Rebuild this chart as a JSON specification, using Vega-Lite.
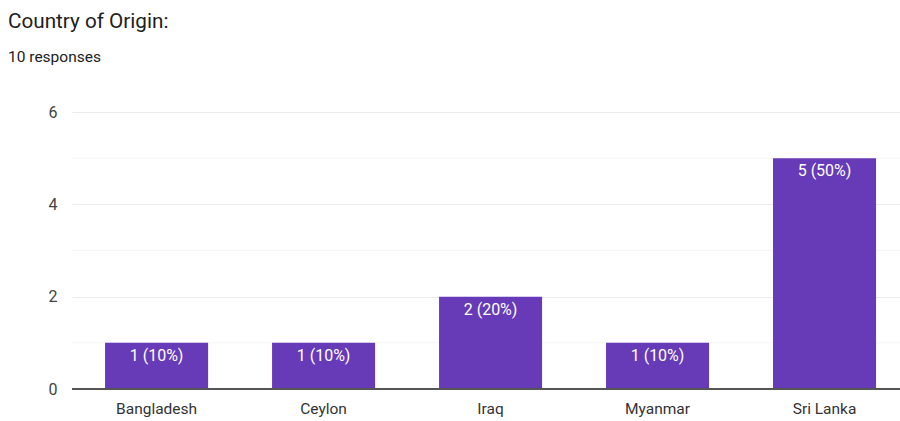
{
  "$schema": "https://vega.github.io/schema/vega-lite/v6.json",
  "width": 828,
  "height": 277,
  "padding": {"left": 8, "top": 10, "right": 0, "bottom": 0},
  "background": "white",
  "title": {
    "text": "Country of Origin:",
    "subtitle": "10 responses",
    "anchor": "start",
    "frame": "group",
    "dx": -64,
    "offset": 38,
    "font": "Roboto",
    "fontSize": 20.7,
    "fontWeight": "normal",
    "color": "#212121",
    "subtitleFont": "Roboto",
    "subtitleFontSize": 15.5,
    "subtitleColor": "#212121",
    "subtitlePadding": 17
  },
  "data": {
    "values": [
      {"country": "Bangladesh", "count": 1, "label": "1 (10%)"},
      {"country": "Ceylon", "count": 1, "label": "1 (10%)"},
      {"country": "Iraq", "count": 2, "label": "2 (20%)"},
      {"country": "Myanmar", "count": 1, "label": "1 (10%)"},
      {"country": "Sri Lanka", "count": 5, "label": "5 (50%)"}
    ]
  },
  "config": {
    "view": {"stroke": null},
    "font": "Roboto"
  },
  "encoding": {
    "x": {
      "field": "country",
      "type": "nominal",
      "sort": null,
      "scale": {"paddingInner": 0.383, "paddingOuter": 0.1707, "align": 0.58},
      "axis": {
        "title": null,
        "labelAngle": 0,
        "labelFont": "Roboto",
        "labelFontSize": 15.5,
        "labelColor": "#333333",
        "labelPadding": 12,
        "ticks": false,
        "domain": false
      }
    },
    "y": {
      "field": "count",
      "type": "quantitative",
      "scale": {"domain": [0, 6], "nice": false},
      "axis": {
        "title": null,
        "values": [0, 2, 4, 6],
        "labelFont": "Roboto",
        "labelFontSize": 16,
        "labelColor": "#444444",
        "labelPadding": 15,
        "ticks": false,
        "domain": false,
        "grid": true,
        "gridColor": "#ebebeb",
        "gridWidth": 1
      }
    }
  },
  "layer": [
    {
      "data": {"values": [{"v": 1}, {"v": 3}, {"v": 5}]},
      "mark": {"type": "rule", "color": "#f5f5f5", "strokeWidth": 1},
      "encoding": {"y": {"field": "v", "type": "quantitative"}, "x": null}
    },
    {
      "mark": {"type": "bar", "color": "#673ab7"}
    },
    {
      "mark": {
        "type": "text",
        "color": "white",
        "baseline": "top",
        "dy": 5,
        "fontSize": 16,
        "font": "Roboto"
      },
      "encoding": {"text": {"field": "label"}}
    },
    {
      "data": {"values": [{"v": 0}]},
      "mark": {"type": "rule", "color": "#555555", "strokeWidth": 2},
      "encoding": {"y": {"field": "v", "type": "quantitative"}, "x": null}
    }
  ]
}
